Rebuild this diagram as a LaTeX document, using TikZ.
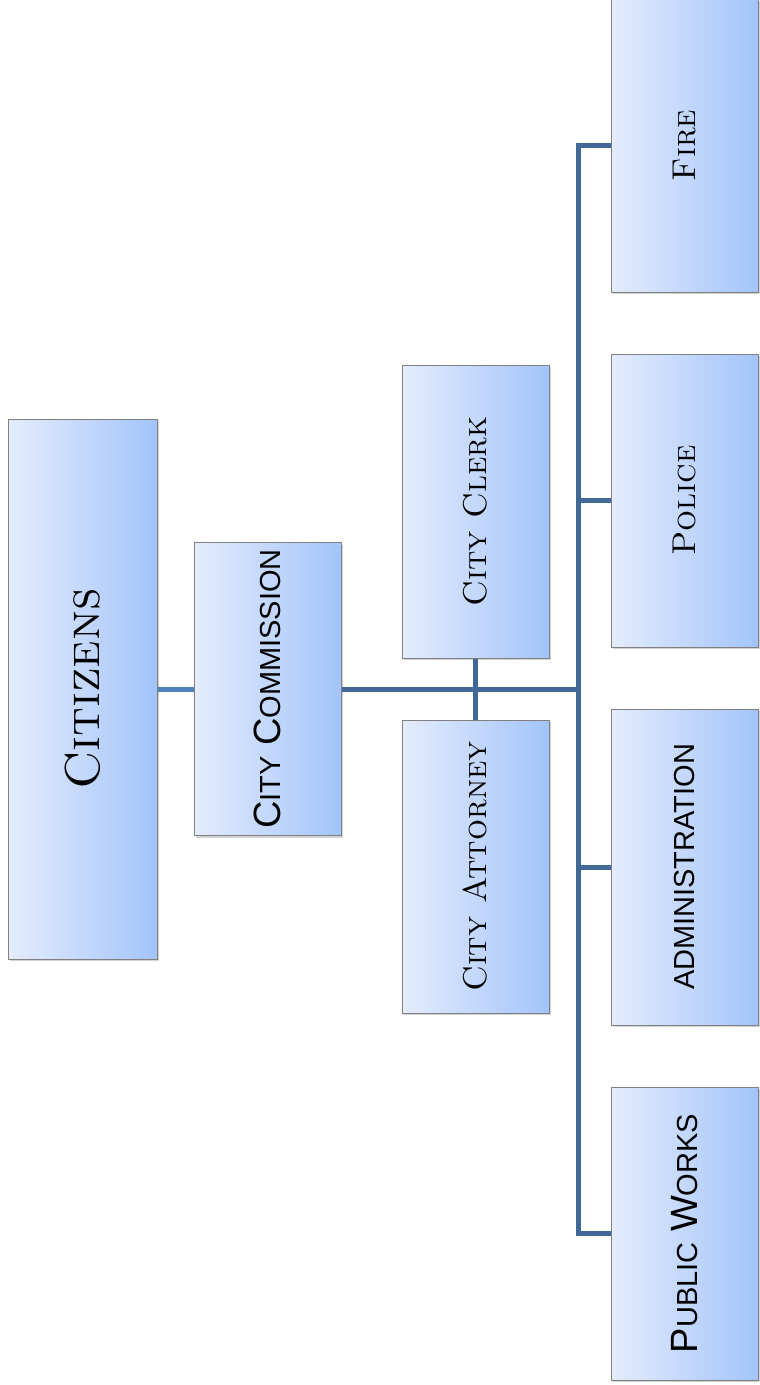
\documentclass[tikz,border=0pt]{standalone}
\usepackage{fontspec}
\setsansfont{Liberation Sans}
\usetikzlibrary{shadows}

\definecolor{boxleft}{RGB}{228,236,253}
\definecolor{boxright}{RGB}{163,196,250}
\definecolor{boxline}{RGB}{128,128,128}
\definecolor{linkdark}{RGB}{64,104,152}
\definecolor{linklight}{RGB}{79,129,189}

% fake small caps for the sans labels
\newcommand{\sfsmall}[1]{{\fontsize{29}{29}\selectfont #1}}

\tikzset{
	unit/.style={draw=boxline, line width=1pt, left color=boxleft, right color=boxright,
		minimum width=147pt, minimum height=293pt, inner sep=0pt,
		drop shadow={opacity=0.35, shadow xshift=2pt, shadow yshift=-2pt}},
	serifname/.style={font=\fontsize{33}{33}\selectfont},
	sansname/.style={font=\sffamily\fontsize{38}{38}\selectfont},
	link/.style={draw=linkdark, line width=5pt},
}

\begin{document}
\begin{tikzpicture}[x=1pt, y=-1pt]
	\useasboundingbox (0,0) rectangle (760,1385);

	\node[unit, minimum width=149pt, minimum height=540pt, font=\fontsize{49}{49}\selectfont] (citizens) at (82.5, 689) {\rotatebox{90}{\textsc{Citizens}}};
	\node[unit, sansname] (comm) at (267.5, 689) {\rotatebox{90}{C\sfsmall{ITY} C\sfsmall{OMMISSION}}};

	\node[unit, serifname] (clerk) at (475.5, 511.5) {\rotatebox{90}{\textsc{City Clerk}}};
	\node[unit, serifname] (attorney) at (475.5, 866.5) {\rotatebox{90}{\textsc{City Attorney}}};

	\node[unit, serifname] (fire) at (684.5, 145.5) {\rotatebox{90}{\textsc{Fire}}};
	\node[unit, serifname] (police) at (684.5, 500.5) {\rotatebox{90}{\textsc{Police}}};
	\node[unit, sansname, minimum height=316pt] (admin) at (684.5, 867) {\rotatebox{90}{\sfsmall{ADMINISTRATION}}};
	\node[unit, sansname] (works) at (684.5, 1233.5) {\rotatebox{90}{P\sfsmall{UBLIC} W\sfsmall{ORKS}}};

	\coordinate (bus) at (578, 689);

	\draw[link, draw=linklight] (citizens.east) -- (comm.west);
	\draw[link] (comm.east) -- (bus);
	\draw[link] (clerk.south) -- (attorney.north);
	\foreach \d in {fire, police, admin, works}
	{
		\draw[link] (\d.west) -| (bus);
	};
\end{tikzpicture}
\end{document}
